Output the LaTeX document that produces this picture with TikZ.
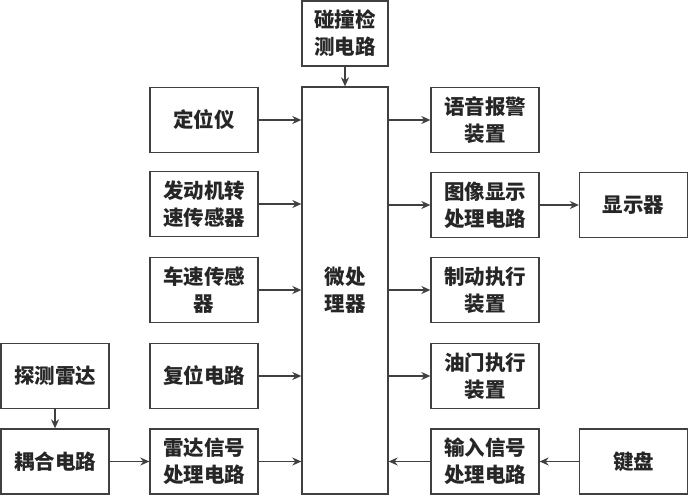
\documentclass[tikz,border=0pt]{standalone}
\usepackage{fontspec}
\setmainfont{Noto Sans CJK SC}
\usetikzlibrary{arrows.meta}
\begin{document}
\begin{tikzpicture}[x=1pt,y=-1pt,
  box/.style={draw=black!75,line width=1.3pt,align=center,text=black!85,font=\fontsize{20.5pt}{27pt}\selectfont\bfseries,inner sep=0pt,minimum width=108pt,minimum height=65pt},
  arr/.style={draw=black!75,line width=1.3pt,-{Stealth[length=9pt,width=8pt]}}]
\useasboundingbox (0,0) rectangle (690,500);
\node[box,minimum width=86pt,minimum height=65pt] (coll) at (345,33.5) {碰撞检\\测电路};
\node[box,minimum width=86pt,minimum height=407pt] (mp) at (345,290.5) {微处\\理器};
\node[box] (dw) at (204,120) {定位仪};
\node[box] (fdj) at (204,204) {发动机转\\速传感器};
\node[box] (cs) at (204,290) {车速传感\\器};
\node[box] (fw) at (204,376) {复位电路};
\node[box] (ld) at (204,461.5) {雷达信号\\处理电路};
\node[box] (tc) at (55,376) {探测雷达};
\node[box] (oh) at (55,461.5) {耦合电路};
\node[box] (yy) at (485,120) {语音报警\\装置};
\node[box] (tx) at (485,205) {图像显示\\处理电路};
\node[box] (zd) at (485,290) {制动执行\\装置};
\node[box] (ym) at (485,376) {油门执行\\装置};
\node[box] (sr) at (485,461.5) {输入信号\\处理电路};
\node[box] (xsq) at (633.5,205) {显示器};
\node[box] (jp) at (633.5,461.5) {键盘};
\draw[arr] (coll.south) -- (mp.north);
\foreach \n in {dw,fdj,cs,fw,ld}{\draw[arr] (\n.east) -- (\n.east -| mp.west);}
\foreach \n in {yy,tx,zd,ym}{\draw[arr] (\n.west -| mp.east) -- (\n.west);}
\draw[arr] (sr.west) -- (sr.west -| mp.east);
\draw[arr] (tx.east) -- (xsq.west);
\draw[arr] (jp.west) -- (sr.east);
\draw[arr] (tc.south) -- (oh.north);
\draw[arr] (oh.east) -- (ld.west);
\end{tikzpicture}
\end{document}
